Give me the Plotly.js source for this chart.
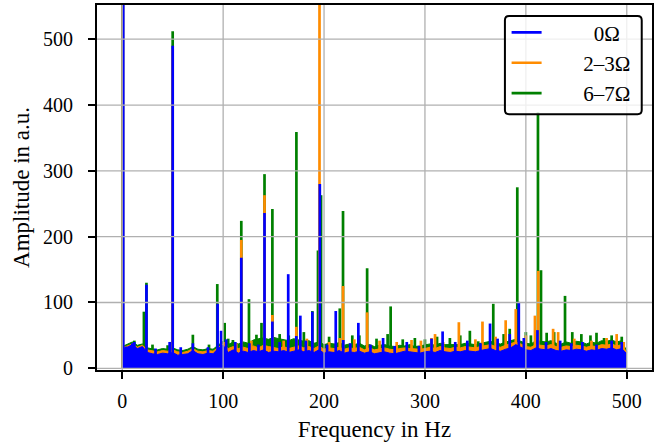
<!DOCTYPE html>
<html>
<head>
<meta charset="utf-8">
<script src="https://cdn.plot.ly/plotly-3.0.1.min.js"></script>
<style>html,body{margin:0;padding:0;background:#fff;}#chart{width:655px;height:447px;}</style>
</head>
<body>
<div id="chart"></div>
<script>
// Noise-floor envelope, sampled every 5 Hz
const floorFreq = [0,5,10,15,20,25,30,35,40,45,50,55,60,65,70,75,80,85,90,95,100,105,110,115,120,125,130,135,140,145,150,155,160,165,170,175,180,185,190,195,200,205,210,215,220,225,230,235,240,245,250,255,260,265,270,275,280,285,290,295,300,305,310,315,320,325,330,335,340,345,350,355,360,365,370,375,380,385,390,395,400,405,410,415,420,425,430,435,440,445,450,455,460,465,470,475,480,485,490,495,500];
const floor0 = [30,32,36,30,33,24,22,21,23,22,24,20,21,22,27,22,21,23,22,30,35,24,28,23,26,24,27,25,28,24,26,25,27,24,26,28,25,27,24,28,23,25,24,27,23,25,24,26,23,25,22,24,25,23,22,24,26,25,24,23,25,26,24,27,25,24,26,25,27,26,25,27,29,30,27,26,29,31,36,32,28,27,31,29,28,30,27,26,28,27,29,28,26,28,27,30,29,31,28,30,22];
const floor23 = [31,34,37,32,35,28,26,25,27,26,28,25,24,26,30,26,25,27,26,32,37,30,33,30,32,30,34,31,35,33,32,30,33,30,32,34,31,33,30,34,29,31,30,32,29,31,30,32,28,31,28,30,31,29,28,30,31,30,29,29,30,32,30,33,31,30,32,31,33,32,31,33,35,36,33,32,35,37,40,37,33,32,36,35,34,36,33,32,34,33,35,34,32,34,33,36,35,37,34,36,24];
const floor67 = [33,36,40,35,37,31,29,28,30,29,31,28,27,29,33,29,28,30,29,35,41,36,40,37,40,38,43,45,46,44,47,45,44,42,45,43,41,42,38,40,36,38,37,39,35,37,36,38,34,36,33,35,36,34,33,35,34,36,33,34,35,37,35,38,36,36,37,36,38,37,36,38,40,41,38,37,40,42,44,41,38,37,42,41,40,42,38,37,40,38,41,40,37,40,38,42,41,43,40,42,26];

// Spectral peaks: frequency (Hz) and amplitude (a.u.)
const peakFreq0 = [1,4,10,12,24,33,47,50,58,70,85,94.5,98,103,112,118,126,135,141,148.8,156,164.5,172.5,176.5,182,188.4,195.8,203,211.6,219,226,234,246,258.5,270,282,294,306.5,317.5,330,342,355,364.5,372,384,393,398,411.5,420,434,445,456,470,485,495];
const peakAmp0  = [2000,33,38,40,127,30,40,490,32,38,32,98,57,44,40,168,38,36,236,71,40,143,49,80,42,86,280,36,87,43,38,69,36,46,34,40,34,45,56,40,42,38,68,45,52,101,46,58,40,42,38,40,36,42,40];

const peakFreq23 = [0.6,50,101,113,118,128,141,148.8,160,172.5,183,195.5,205,215.6,218.8,230,242.7,255,272,286.7,296,306.5,310,318,333.6,350,357,370,380,390,400,409,412.3,427,432,448,465,480,490,497];
const peakAmp23  = [1900,485,40,38,195,42,263,81,42,63,45,900,40,46,125,44,85,42,40,43,42,46,52,40,70,44,71,48,73,90,50,80,148,60,55,45,42,46,52,40];

const peakFreq67 = [0.6,12,21.5,24,30,45,50,70,86,94.2,101.5,105,109.7,118,125.6,133,138,141,148.8,156,165,172.6,180,188.4,194,197,205,215.6,218.8,228,235,242.7,252,263,266,278,290,300,312,324.7,335,344.5,352.8,367.7,378,384,391.5,400,405,412,415,420.6,428,438.8,446,455,464,470,477.5,485,495];
const peakAmp67  = [1800,42,86,130,36,35,512,51,36,128,69,45,43,224,105,51,69,295,242,52,50,359,55,87,179,263,48,91,239,50,50,152,45,52,94,44,46,44,48,46,50,57,41,98,52,60,275,55,50,389,149,54,55,110,55,52,50,54,46,50,48];

const pad = '\u00A0\u00A0\u00A0\u00A0\u00A0\u00A0\u00A0';
const seriesNames = [pad + '\u00A0\u00A00\u03A9', pad + '2\u20133\u03A9', pad + '6\u20137\u03A9'];
const seriesColors = ['#0000ff', '#ff8c00', '#008000'];

const xTicks = [0,100,200,300,400,500];
const yTicks = [0,100,200,300,400,500];

function stems(fr, am) {
  const x = [], y = [];
  for (let i = 0; i < fr.length; i++) { x.push(fr[i], fr[i], null); y.push(0, am[i], null); }
  return {x, y};
}

const series = [
  {name: seriesNames[2], color: seriesColors[2], floor: floor67, pf: peakFreq67, pa: peakAmp67, rank: 3},
  {name: seriesNames[1], color: seriesColors[1], floor: floor23, pf: peakFreq23, pa: peakAmp23, rank: 2},
  {name: seriesNames[0], color: seriesColors[0], floor: floor0, pf: peakFreq0, pa: peakAmp0, rank: 1}
];

const traces = [];
series.forEach(s => {
  traces.push({
    type: 'scatter', mode: 'lines', x: floorFreq, y: s.floor,
    fill: 'tozeroy', fillcolor: s.color, line: {color: s.color, width: 1},
    showlegend: false, hoverinfo: 'skip'
  });
  const st = stems(s.pf, s.pa);
  traces.push({
    type: 'scatter', mode: 'lines', x: st.x, y: st.y, name: s.name,
    line: {color: s.color, width: 2.7}, legendrank: s.rank
  });
});

const shapes = [];
xTicks.forEach(v => shapes.push({type: 'line', layer: 'above', xref: 'x', yref: 'paper', x0: v, x1: v, y0: 0, y1: 1, line: {color: '#b0b0b0', width: 1.3}}));
yTicks.forEach(v => shapes.push({type: 'line', layer: 'above', xref: 'paper', yref: 'y', x0: 0, x1: 1, y0: v, y1: v, line: {color: '#b0b0b0', width: 1.3}}));
// rounded legend frame
const lx0 = 0.735, lx1 = 0.9815, ly0 = 0.701, ly1 = 0.970, rx = 0.0075, ry = 0.0115;
shapes.push({type: 'path', layer: 'above', xref: 'paper', yref: 'paper',
  path: `M${lx0+rx},${ly1} L${lx1-rx},${ly1} Q${lx1},${ly1} ${lx1},${ly1-ry} L${lx1},${ly0+ry} Q${lx1},${ly0} ${lx1-rx},${ly0} L${lx0+rx},${ly0} Q${lx0},${ly0} ${lx0},${ly0+ry} L${lx0},${ly1-ry} Q${lx0},${ly1} ${lx0+rx},${ly1} Z`,
  fillcolor: 'rgba(255,255,255,0.8)', line: {color: '#000', width: 2}});

const font = 'Liberation Serif';
const layout = {
  width: 655, height: 447,
  margin: {l: 97, r: 3, t: 5, b: 77},
  paper_bgcolor: '#fff', plot_bgcolor: '#fff',
  font: {family: font, color: '#000', size: 20},
  showlegend: true,
  legend: {x: 0.738, xanchor: 'left', y: 0.98, yanchor: 'top', bgcolor: 'rgba(0,0,0,0)', borderwidth: 0,
           font: {family: font, size: 21, color: '#000'}, tracegroupgap: 0},
  xaxis: {range: [-25, 525], tickvals: xTicks, ticktext: xTicks.map(String), showgrid: false, zeroline: false,
          showline: true, mirror: true, linecolor: '#000', linewidth: 2, ticks: 'outside', ticklen: 7, tickwidth: 2, tickcolor: '#000',
          ticklabelstandoff: 5, tickfont: {family: font, size: 20, color: '#000'},
          title: {text: 'Frequency in Hz', font: {family: font, size: 23, color: '#000'}, standoff: 10}},
  yaxis: {range: [-2.6, 552], tickvals: yTicks, ticktext: yTicks.map(String), showgrid: false, zeroline: false,
          showline: true, mirror: true, linecolor: '#000', linewidth: 2, ticks: 'outside', ticklen: 7, tickwidth: 2, tickcolor: '#000',
          ticklabelstandoff: 11, tickfont: {family: font, size: 20, color: '#000'},
          title: {text: 'Amplitude in a.u.', font: {family: font, size: 23, color: '#000'}, standoff: 7}},
  shapes: shapes
};

Plotly.newPlot('chart', traces, layout, {displayModeBar: false, staticPlot: true});
</script>
</body>
</html>
